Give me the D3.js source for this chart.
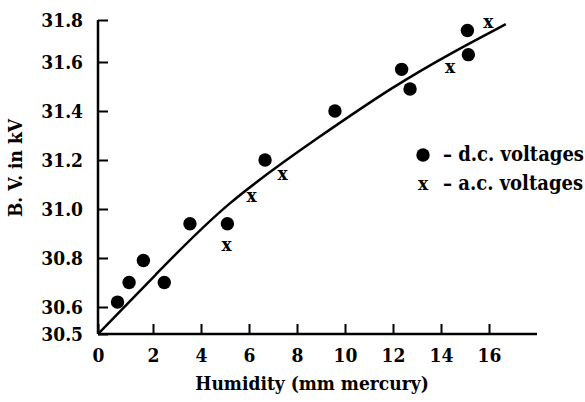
<!DOCTYPE html>
<html>
<head>
<meta charset="utf-8">
<script src="https://cdn.jsdelivr.net/npm/d3@7"></script>
<style>
  body { margin: 0; background: #fff; }
  text { font-family: "DejaVu Serif Condensed", "DejaVu Serif", serif; font-weight: bold; fill: #000; }
</style>
</head>
<body>
<div id="graph"></div>
<script>
// humidity (mm mercury) vs breakdown voltage (kV)
const dc_x = [0.71, 1.13, 1.65, 2.47, 3.54, 5.10, 6.67, 9.58, 12.36, 12.71, 15.10, 15.14];
const dc_y = [30.62, 30.70, 30.79, 30.70, 30.94, 30.94, 31.20, 31.40, 31.57, 31.49, 31.75, 31.635];
const ac_x = [5.07, 6.11, 7.40, 14.38, 15.97];
const ac_y = [30.85, 31.05, 31.14, 31.58, 31.79];
// fitted curve as drawn
const fit_x = [0, 2, 5, 9, 12, 14.5, 16.7];
const fit_y = [30.5, 30.72, 31.025, 31.30, 31.50, 31.648, 31.78];
const xticks = [0, 2, 4, 6, 8, 10, 12, 14, 16];
const yticks = [30.5, 30.6, 30.8, 31.0, 31.2, 31.4, 31.6, 31.8];
const legend_labels = ['\u2013 d.c. voltages', '\u2013 a.c. voltages'];

const w = 585, h = 402;
const svg = d3.select('#graph').append('svg').attr('width', w).attr('height', h);

// the printed axes are not quite uniform, so the scales follow the drawn ticks
const xScale = d3.scaleLinear().domain([0, 2, 18]).range([98, 153, 537]);
const yScale = d3.scaleLinear().domain([30.5, 30.6, 31.6, 31.8]).range([334, 307, 62, 20]);

const xAxis = d3.axisBottom(xScale).tickValues(xticks).tickSize(-10).tickPadding(15).tickFormat(d3.format('d'));
const yAxis = d3.axisLeft(yScale).tickValues(yticks).tickSize(-10).tickPadding(15).tickFormat(d3.format('.1f'));

const gx = svg.append('g').attr('transform', 'translate(0,' + yScale(30.5) + ')').call(xAxis);
const gy = svg.append('g').attr('transform', 'translate(' + xScale(0) + ',0)').call(yAxis);
[gx, gy].forEach(g => {
  g.select('.domain').remove();
  g.selectAll('line').attr('stroke', '#000').attr('stroke-width', 2);
  g.selectAll('text').style('font-size', '19px');
});

// axis lines
svg.append('line')
  .attr('x1', xScale(0)).attr('x2', xScale(18))
  .attr('y1', yScale(30.5)).attr('y2', yScale(30.5))
  .attr('stroke', '#000').attr('stroke-width', 2.5);
svg.append('line')
  .attr('x1', xScale(0)).attr('x2', xScale(0))
  .attr('y1', yScale(30.5)).attr('y2', yScale(31.8))
  .attr('stroke', '#000').attr('stroke-width', 2.5);

// fitted curve
const fit = fit_x.map((d, i) => [d, fit_y[i]]);
svg.append('path')
  .datum(fit)
  .attr('d', d3.line().x(d => xScale(d[0])).y(d => yScale(d[1])).curve(d3.curveBasis))
  .attr('fill', 'none')
  .attr('stroke', '#000')
  .attr('stroke-width', 2.5);

// d.c. points
svg.selectAll('circle.dc')
  .data(dc_x.map((d, i) => [d, dc_y[i]]))
  .enter()
  .append('circle')
  .attr('class', 'dc')
  .attr('cx', d => xScale(d[0]))
  .attr('cy', d => yScale(d[1]))
  .attr('r', 6.7)
  .attr('fill', '#000');

// a.c. points
svg.selectAll('text.ac')
  .data(ac_x.map((d, i) => [d, ac_y[i]]))
  .enter()
  .append('text')
  .attr('class', 'ac')
  .attr('x', d => xScale(d[0]))
  .attr('y', d => yScale(d[1]))
  .attr('text-anchor', 'middle')
  .attr('dy', '0.3em')
  .style('font-size', '19px')
  .text('x');

// legend
const lg = svg.append('g').attr('transform', 'translate(423,155)');
lg.append('circle').attr('cx', 0).attr('cy', 0).attr('r', 6.7).attr('fill', '#000');
lg.append('text').attr('x', 0).attr('y', 29).attr('text-anchor', 'middle').attr('dy', '0.3em')
  .style('font-size', '19px').text('x');
lg.selectAll('text.lab')
  .data(legend_labels)
  .enter()
  .append('text')
  .attr('class', 'lab')
  .attr('x', 20)
  .attr('y', (d, i) => 6 + i * 29)
  .style('font-size', '20px')
  .text(d => d);

//x-label
svg.append('text')
  .text('Humidity (mm mercury)')
  .attr('x', 312)
  .attr('y', 390)
  .attr('text-anchor', 'middle')
  .style('font-size', '19px');

//y-label
svg.append('text')
  .text('B. V. in kV')
  .attr('transform', 'translate(22,168) rotate(-90)')
  .attr('text-anchor', 'middle')
  .style('font-size', '19px');
</script>
</body>
</html>
